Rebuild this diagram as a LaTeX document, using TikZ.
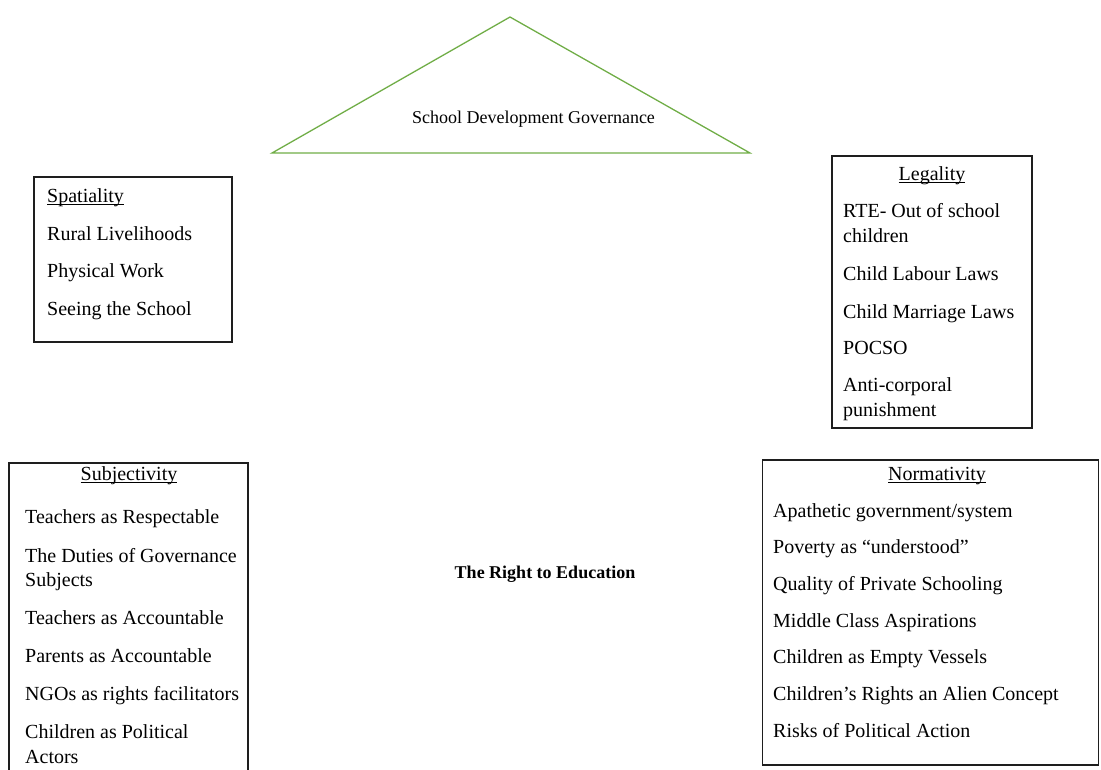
\documentclass[tikz,border=0pt]{standalone}
\usepackage{fontspec}
\setmainfont{Liberation Serif}
\definecolor{roofgreen}{RGB}{112,173,71}
\definecolor{framegray}{RGB}{30,30,30}
% underline sitting close to the baseline, as in a word processor
\newcommand{\wordul}[1]{\setbox0\hbox{#1}\rlap{\rule[-2.6pt]{\wd0}{0.9pt}}#1}
\begin{document}
\begin{tikzpicture}[x=1pt,y=-1pt,
  frame/.style={draw=framegray, line width=1.2pt, rectangle, inner sep=0pt},
  item/.style={anchor=base west, inner sep=0pt, font=\fontsize{20}{25}\selectfont},
  headc/.style={anchor=base, inner sep=0pt, font=\fontsize{20}{25}\selectfont},
  small/.style={anchor=base, inner sep=0pt, font=\fontsize{18}{22}\selectfont}]
\useasboundingbox (0,0) rectangle (1101,769);
\clip (0,0) rectangle (1101,769);

% roof: school development governance
\coordinate (apex) at (510,17);
\coordinate (eaveL) at (272,153);
\coordinate (eaveR) at (750,153);
\draw[roofgreen, line width=1.3pt, line join=miter] (apex) -- (eaveL) -- (eaveR) -- cycle;
\node[small] (sdg) at (533.5,123) {School Development Governance};

% centre label
\node[small, font=\fontsize{18}{22}\selectfont\bfseries] (rte) at (545,578) {The Right to Education};

% Spatiality
\node[frame, minimum width=198pt, minimum height=165pt] (spat) at (133,259.5) {};
\node[item] (spat0) at (47,202) {\wordul{Spatiality}};
\node[item] (spat1) at (47,240) {Rural Livelihoods};
\node[item] (spat2) at (47,277) {Physical Work};
\node[item] (spat3) at (47,315) {Seeing the School};

% Legality
\node[frame, minimum width=200pt, minimum height=272pt] (leg) at (932,292) {};
\node[headc] (leg0) at (932,180) {\wordul{Legality}};
\node[item] (leg1a) at (843,217) {RTE- Out of school};
\node[item] (leg1b) at (843,242) {children};
\node[item] (leg2) at (843,280) {Child Labour Laws};
\node[item] (leg3) at (843,318) {Child Marriage Laws};
\node[item] (leg4) at (843,354) {POCSO};
\node[item] (leg5a) at (843,391) {Anti-corporal};
\node[item] (leg5b) at (843,416) {punishment};

% Subjectivity
\node[frame, minimum width=239pt, minimum height=340pt] (subj) at (128.5,633) {};
\node[headc] (subj0) at (129,480) {\wordul{Subjectivity}};
\node[item] (subj1) at (25,523) {Teachers as Respectable};
\node[item] (subj2a) at (25,562) {The Duties of Governance};
\node[item] (subj2b) at (25,586) {Subjects};
\node[item] (subj3) at (25,624) {Teachers as Accountable};
\node[item] (subj4) at (25,662) {Parents as Accountable};
\node[item] (subj5) at (25,700) {NGOs as rights facilitators};
\node[item] (subj6a) at (25,738) {Children as Political};
\node[item] (subj6b) at (25,763) {Actors};

% Normativity
\node[frame, minimum width=336pt, minimum height=305pt] (norm) at (930.5,612.5) {};
\node[headc] (norm0) at (937,480) {\wordul{Normativity}};
\node[item] (norm1) at (773,517) {Apathetic government/system};
\node[item] (norm2) at (773,553) {Poverty as “understood”};
\node[item] (norm3) at (773,590) {Quality of Private Schooling};
\node[item] (norm4) at (773,627) {Middle Class Aspirations};
\node[item] (norm5) at (773,663) {Children as Empty Vessels};
\node[item] (norm6) at (773,700) {Children’s Rights an Alien Concept};
\node[item] (norm7) at (773,737) {Risks of Political Action};
\end{tikzpicture}
\end{document}
